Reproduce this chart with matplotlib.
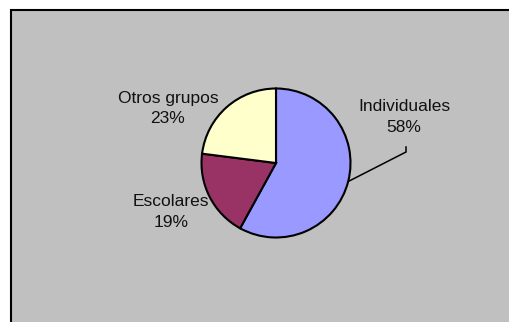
import matplotlib
matplotlib.use("Agg")
import matplotlib.pyplot as plt
from matplotlib.patches import Rectangle
import numpy as np

# datos del gráfico
categorias = ["Individuales", "Escolares", "Otros grupos"]
porcentajes = [58, 19, 23]
colores = ["#9999FF", "#993366", "#FFFFCC"]

W, H = 510, 322
plt.rcParams["font.family"] = ["Liberation Sans", "DejaVu Sans"]

fig = plt.figure(figsize=(W / 100, H / 100), dpi=100)
fig.patch.set_facecolor("white")
ax = fig.add_axes([0, 0, 1, 1])

cx, cy, r = 276, H - 163, 74.5
ax.pie(porcentajes, colors=colores, startangle=90, counterclock=False,
       center=(cx, cy), radius=r, frame=True,
       wedgeprops=dict(edgecolor="black", linewidth=1.5, zorder=2))
ax.set_xlim(0, W)
ax.set_ylim(0, H)
ax.set_aspect("equal")
ax.set_axis_off()

# fondo gris del área del gráfico (sigue fuera de la imagen a la derecha y abajo)
ax.add_patch(Rectangle((11.5, -20), 600, H - 9.5 + 20, facecolor="#C0C0C0",
                       edgecolor="none", zorder=0))
# borde negro arriba e izquierda
ax.plot([11.5, 11.5, W + 5], [-5, H - 9.5, H - 9.5], color="black", linewidth=1.5,
        solid_joinstyle="miter", zorder=1)

# posiciones de las etiquetas (en píxeles desde arriba)
pos_etiquetas = {"Individuales": (404, 117), "Escolares": (171, 212), "Otros grupos": (168, 108.5)}
for cat, p in zip(categorias, porcentajes):
    x, y = pos_etiquetas[cat]
    ax.text(x, H - y, f"{cat}\n{p}%", ha="center", va="center", fontsize=12.5,
            linespacing=1.45, color="#111111")

# línea guía de Individuales desde el borde del sector
ang = np.deg2rad(90 - porcentajes[0] / 100 * 360 / 2)
x0, y0 = cx + r * np.cos(ang), cy + r * np.sin(ang)
ax.plot([x0, 406, 406], [y0, H - 152, H - 147], color="black", linewidth=1.1,
        solid_joinstyle="miter")

fig.savefig("out.png", dpi=100)
